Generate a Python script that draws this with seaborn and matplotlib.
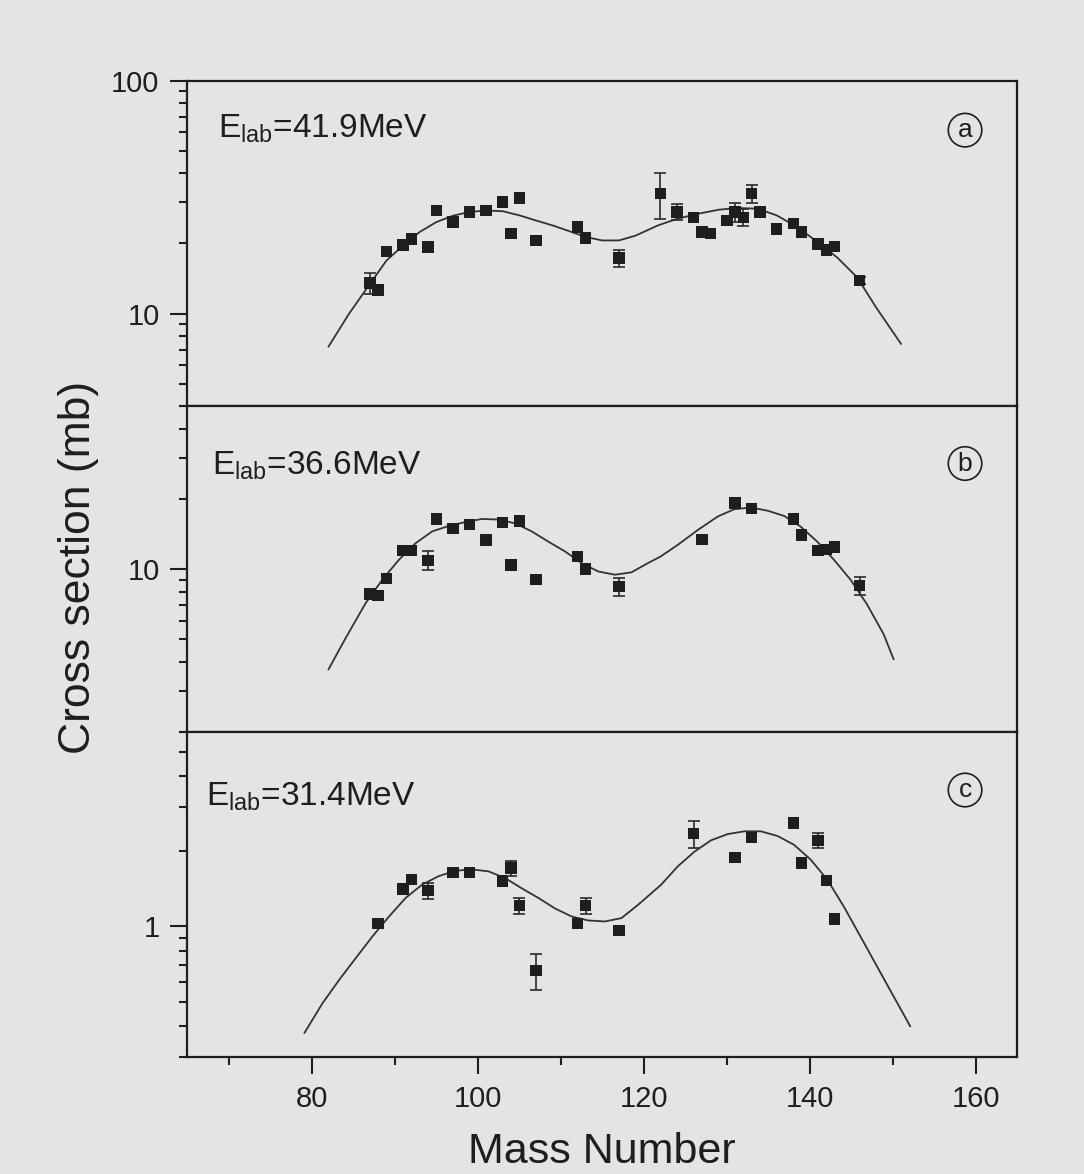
import matplotlib
matplotlib.use("Agg")
import matplotlib.pyplot as plt
import seaborn as sns
from matplotlib.ticker import LogLocator, NullFormatter, FuncFormatter, MultipleLocator

# ---------------- data ----------------
# Panel (a)  E_lab = 41.9 MeV
a_mass = [87, 88, 89, 91, 92, 94, 95, 97, 99, 101, 103, 104, 105, 107, 112, 113, 117,
          122, 124, 126, 127, 128, 130, 131, 132, 133, 134, 136, 138, 139, 141, 142, 143, 146]
a_sigma = [13.5, 12.6, 18.5, 19.7, 20.9, 19.3, 27.7, 24.7, 27.3, 27.7, 30.1, 22.1, 31.3, 20.6,
           23.5, 21.1, 17.3, 32.7, 27.3, 25.9, 22.4, 22.1, 25.1, 27.3, 25.9, 32.7, 27.3, 23.1,
           24.3, 22.4, 19.9, 18.7, 19.4, 13.9]
a_err_mass = [87, 117, 122, 124, 131, 132, 133, 146]
a_err_val = [13.5, 17.3, 32.7, 27.3, 27.3, 25.9, 32.7, 13.9]
a_err = [1.4, 1.5, 7.3, 2.1, 2.5, 2.2, 2.9, 0.5]
a_fit_mass = [82, 84.5, 87, 89, 91, 93, 95, 97, 99, 101, 103, 105, 107, 109, 111, 113, 115, 117,
              119, 121.7, 124, 126.5, 129, 131.3, 133.7, 136, 138.5, 141, 143.3, 145.7, 148, 151]
a_fit_sigma = [7.2, 10.0, 13.4, 16.9, 19.6, 22.4, 24.7, 26.3, 27.3, 27.7, 27.5, 26.4, 25.1, 23.9,
               22.6, 21.3, 20.6, 20.6, 21.6, 23.9, 25.5, 26.8, 27.9, 28.4, 28.2, 26.4, 23.5, 20.2,
               17.4, 14.3, 10.6, 7.4]

# Panel (b)  E_lab = 36.6 MeV
b_mass = [87, 88, 89, 91, 92, 94, 95, 97, 99, 101, 103, 104, 105, 107, 112, 113, 117,
          127, 131, 133, 138, 139, 141, 142, 143, 146]
b_sigma = [7.8, 7.7, 9.1, 12.0, 12.0, 10.9, 16.4, 14.9, 15.5, 13.3, 15.8, 10.4, 16.1, 9.0,
           11.3, 10.0, 8.4, 13.4, 19.2, 18.2, 16.4, 14.0, 12.0, 12.1, 12.4, 8.5]
b_err_mass = [94, 117, 146]
b_err_val = [10.9, 8.4, 8.5]
b_err = [1.0, 0.75, 0.75]
b_fit_mass = [82, 84.1, 86.5, 88.5, 90.5, 92.5, 94.5, 96.5, 98.5, 100.5, 102.5, 104.5, 106.5,
              108.5, 110.5, 112.5, 114.5, 116.5, 118.5, 120.5, 122, 124.1, 126.5, 128.9, 130.9,
              132.9, 134.9, 136.9, 138.9, 140.9, 142.9, 144.9, 146.9, 148.9, 150.1]
b_fit_sigma = [3.7, 5.07, 7.15, 9.0, 10.96, 12.9, 14.5, 15.3, 15.9, 16.4, 16.3, 15.7, 14.5, 13.1,
               11.9, 10.6, 9.76, 9.45, 9.67, 10.6, 11.3, 12.7, 14.7, 16.8, 18.06, 18.35, 17.8,
               16.9, 15.2, 13.1, 10.96, 9.0, 7.04, 5.24, 4.09]

# Panel (c)  E_lab = 31.4 MeV
c_mass = [88, 91, 92, 94, 97, 99, 103, 104, 105, 107, 112, 113, 117,
          126, 131, 133, 138, 139, 141, 142, 143]
c_sigma = [1.03, 1.41, 1.54, 1.39, 1.64, 1.64, 1.52, 1.71, 1.21, 0.667, 1.03, 1.21, 0.964,
           2.35, 1.89, 2.27, 2.59, 1.79, 2.21, 1.53, 1.07]
c_err_mass = [94, 104, 105, 107, 113, 117, 126, 141]
c_err_val = [1.39, 1.71, 1.21, 0.667, 1.21, 0.964, 2.35, 2.21]
c_err = [0.10, 0.12, 0.09, 0.11, 0.09, 0.04, 0.29, 0.16]
c_fit_mass = [79.1, 81.3, 83.3, 85.3, 87.3, 89.3, 91.3, 93.3, 95.3, 97.3, 99.3, 101.3, 103.3,
              105.3, 107.3, 109.3, 111.3, 113.3, 115.3, 117.3, 119.3, 122.1, 124.1, 126.1, 128.1,
              130.1, 132.1, 134.1, 136.1, 138.1, 140.1, 142.1, 144.1, 146.1, 148.1, 150.1, 152.1]
c_fit_sigma = [0.375, 0.494, 0.612, 0.748, 0.912, 1.096, 1.30, 1.47, 1.59, 1.67, 1.69, 1.66, 1.56,
               1.42, 1.30, 1.18, 1.096, 1.057, 1.047, 1.08, 1.22, 1.47, 1.74, 1.99, 2.21, 2.34,
               2.40, 2.40, 2.30, 2.12, 1.85, 1.54, 1.20, 0.912, 0.692, 0.525, 0.399]

energy_labels = ["41.9", "36.6", "31.4"]
panel_letters = ["a", "b", "c"]
y_limits = [(4, 100), (2, 50), (0.3, 6)]
x_limits = (65, 165)
x_major_ticks = [80, 100, 120, 140, 160]

# ---------------- style ----------------
sns.set_theme(style="ticks")
plt.rcParams['font.family'] = ['Liberation Sans', 'DejaVu Sans']
plt.rcParams['mathtext.default'] = 'regular'

BG = '#e4e4e4'
INK = '#1e1e1e'

fig = plt.figure(figsize=(10.84, 11.74), dpi=100, facecolor=BG)
gs = fig.add_gridspec(3, 1, left=0.1728, right=0.9385, top=0.9313, bottom=0.0994, hspace=0)
axes = [fig.add_subplot(gs[i]) for i in range(3)]

panels = [
    (a_mass, a_sigma, a_err_mass, a_err_val, a_err, a_fit_mass, a_fit_sigma),
    (b_mass, b_sigma, b_err_mass, b_err_val, b_err, b_fit_mass, b_fit_sigma),
    (c_mass, c_sigma, c_err_mass, c_err_val, c_err, c_fit_mass, c_fit_sigma),
]
text_pos = [(0.037, 0.824), (0.030, 0.79), (0.022, 0.772)]
circ_pos = [(0.937, 0.848), (0.937, 0.824), (0.937, 0.821)]

for i, ax in enumerate(axes):
    m, s, em, ev, ee, fm, fs = panels[i]
    ax.set_facecolor(BG)
    ax.set_yscale('log')
    ax.set_xlim(*x_limits)
    ax.set_ylim(*y_limits[i])

    sns.lineplot(x=fm, y=fs, ax=ax, color='#333333', linewidth=1.3,
                 sort=False, estimator=None, zorder=2)
    ax.errorbar(em, ev, yerr=ee, fmt='none', ecolor='#2a2a2a', elinewidth=1.2,
                capsize=4, capthick=1.2, zorder=3)
    sns.scatterplot(x=m, y=s, ax=ax, marker='s', s=68, color=INK,
                    edgecolor='none', linewidth=0, zorder=4)

    # axes cosmetics
    for sp in ax.spines.values():
        sp.set_color(INK)
        sp.set_linewidth(1.6)
    ax.xaxis.set_major_locator(MultipleLocator(20))
    ax.xaxis.set_minor_locator(MultipleLocator(10))
    ax.set_xticks(x_major_ticks)
    ax.yaxis.set_major_locator(LogLocator(base=10))
    ax.yaxis.set_minor_locator(LogLocator(base=10, subs=[2, 3, 4, 5, 6, 7, 8, 9]))
    ax.yaxis.set_major_formatter(FuncFormatter(lambda v, _: f"{v:g}"))
    ax.yaxis.set_minor_formatter(NullFormatter())
    ax.tick_params(which='major', direction='out', length=12, width=1.5, color=INK,
                   labelsize=21, pad=8, top=False, right=False, labelcolor=INK)
    ax.tick_params(which='minor', direction='out', length=6, width=1.5, color=INK,
                   top=False, right=False)
    if i < 2:
        ax.tick_params(axis='x', which='both', labelbottom=False)
    ax.set_xlabel('')
    ax.set_ylabel('')
    ax.grid(False)

    tx, ty = text_pos[i]
    ax.text(tx, ty, r"E$_{lab}$=" + energy_labels[i] + "MeV", transform=ax.transAxes,
            fontsize=24, color=INK, ha='left', va='baseline')
    cx, cy = circ_pos[i]
    ax.text(cx, cy, panel_letters[i], transform=ax.transAxes, fontsize=19, color=INK,
            ha='center', va='center',
            bbox=dict(boxstyle='circle,pad=0.18', fc='none', ec=INK, lw=1.2))

fig.text(0.072, 0.517, "Cross section (mb)", rotation=90, ha='center', va='center',
         fontsize=32, color=INK)
fig.text(0.5555, 0.019, "Mass Number", ha='center', va='center', fontsize=31, color=INK)

fig.savefig("out.png", dpi=100, facecolor=BG)
